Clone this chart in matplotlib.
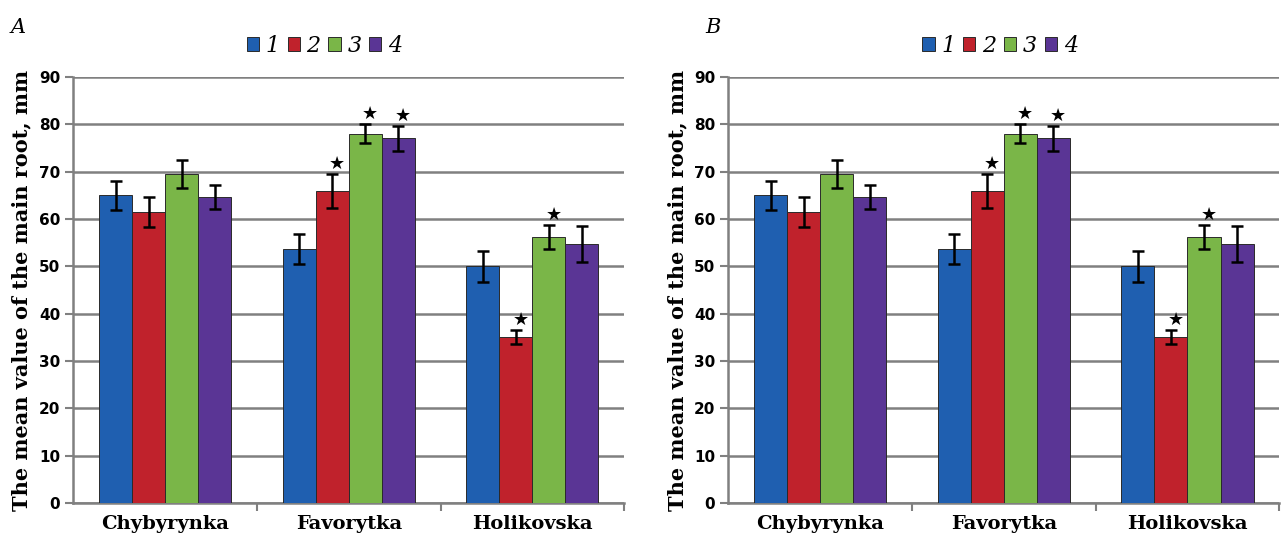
import matplotlib.pyplot as plt
import numpy as np

categories = ["Chybyrynka", "Favorytka", "Holikovska"]
series_names = ["1", "2", "3", "4"]
# mean root length (mm) per series, per variety
means = [
    [65.0, 53.7, 50.0],
    [61.5, 66.0, 35.0],
    [69.5, 78.0, 56.2],
    [64.7, 77.0, 54.7],
]
errors = [
    [3.0, 3.2, 3.3],
    [3.2, 3.6, 1.5],
    [3.0, 2.0, 2.5],
    [2.5, 2.6, 3.8],
]
# significant difference marks (series index, category index)
stars = [(1, 1), (2, 1), (3, 1), (1, 2), (2, 2)]
colors = ["#1f5fb0", "#c0222c", "#7ab648", "#5a3595"]
panels = ["A", "B"]

fig = plt.figure(figsize=(12.87, 5.42), dpi=100)
serif = "DejaVu Serif"

bw = 0.18
x = np.arange(len(categories))
layout = [(0.057, 0.456, 0.008), (0.566, 0.493, 0.548)]
for name, (left, leg_x, let_x) in zip(panels, layout):
    ax = fig.add_axes([left, 0.072, 0.428, 0.786])
    for i in range(4):
        pos = x + (i - 1.5) * bw
        ax.bar(pos, means[i], bw, color=colors[i], edgecolor="#2a2a2a", linewidth=0.7,
               zorder=3, label=series_names[i])
        ax.errorbar(pos, means[i], yerr=errors[i], fmt="none", ecolor="black",
                    elinewidth=1.8, capsize=4, capthick=1.8, zorder=4)
    for i, c in stars:
        ax.text(x[c] + (i - 1.5) * bw + 0.025, means[i][c] + errors[i][c] + 0.2, "★",
                ha="center", va="bottom", fontsize=13, family="DejaVu Sans", zorder=5)
    ax.set_xlim(-0.5, 2.5)
    ax.set_ylim(0, 90)
    ax.set_yticks(range(0, 91, 10))
    ax.yaxis.grid(True, color="#808080", linewidth=1.8, zorder=0)
    ax.set_xticks(x)
    ax.set_xticklabels(categories, family=serif, fontweight="bold", fontsize=14)
    ax.set_xticks([0.5, 1.5, 2.5], minor=True)
    ax.tick_params(axis="x", which="major", length=0, pad=9)
    ax.tick_params(axis="x", which="minor", length=6, color="#808080", width=1.5)
    ax.tick_params(axis="y", length=6, color="#808080", width=1.5, labelsize=11)
    for lab in ax.get_yticklabels():
        lab.set_fontweight("bold")
    for s in ["top", "right"]:
        ax.spines[s].set_visible(False)
    for s in ["left", "bottom"]:
        ax.spines[s].set_color("#808080")
        ax.spines[s].set_linewidth(1.8)
    ax.set_ylabel("The mean value of the main root, mm", family=serif, fontweight="bold",
                  fontsize=15, labelpad=5)
    ax.legend(loc="lower center", bbox_to_anchor=(leg_x, 1.0), ncol=4, frameon=False,
              handlelength=0.55, handleheight=0.55, handletextpad=0.3, columnspacing=0.35,
              prop={"family": serif, "style": "italic", "size": 16})
    fig.text(let_x, 0.94, name, family=serif, style="italic", fontsize=15)

fig.savefig("out.png", dpi=100)
